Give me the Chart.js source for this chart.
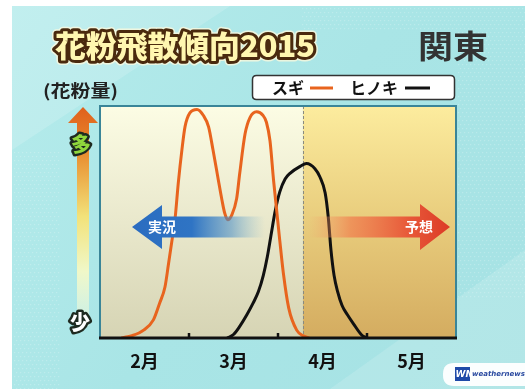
<!DOCTYPE html>
<html>
<head>
<meta charset="utf-8">
<script src="https://cdn.jsdelivr.net/npm/chart.js@4"></script>
<style>
  html, body { margin: 0; padding: 0; background: #ffffff; }
  canvas { display: block; }
</style>
</head>
<body>
<canvas id="c" width="525" height="389"></canvas>
<script>
// Months on the x axis (0 = start of February, 4 = end of May)
const monthLabels  = ['2月', '3月', '4月', '5月'];
const monthCenters = [0.5, 1.5, 2.5, 3.5];
const monthBounds  = [1, 2, 3];

// スギ (Japanese cedar) pollen level, 0 = 少, 100 = 多
const sugiX = [0.24, 0.36, 0.49, 0.60, 0.67, 0.73, 0.77, 0.82, 0.845, 0.88, 0.92, 0.955, 1.01, 1.09, 1.16, 1.22, 1.27, 1.33, 1.37, 1.40, 1.435, 1.48, 1.535, 1.57, 1.63, 1.685, 1.76, 1.83, 1.87, 1.91, 1.95, 1.985, 2.02, 2.06, 2.12, 2.21, 2.29, 2.35];
const sugiY = [0,    1,    3.4,  7.8,  15,   22,   32,   45,   52,    67,   81,   91,    97,   98.5, 96,   91,   81,   68,   59.5, 54,   51,    53,   60,    71,   88,   95,    97.5, 96,   93,   85,   68,   55,    42,   28,   13,   3.4,  0.8,  0];

// ヒノキ (Japanese cypress) pollen level
const hinokiX = [1.43, 1.50, 1.57, 1.65, 1.72, 1.78, 1.835, 1.88, 1.92, 1.97, 2.02, 2.08, 2.135, 2.25, 2.32, 2.415, 2.47, 2.53, 2.565, 2.595, 2.63, 2.67, 2.72, 2.78, 2.85, 2.94, 3.00];
const hinokiY = [0,    1.5,  5,    10,   15,   20,   27,    35,   44,   55,   63,   68.5, 71,    74,   75.2, 73,    69.5, 62.5, 52,    38,    27,   20,   14,   10,   6,    1.3,  0];

// Observed / forecast boundary (in months)
const forecastStart = 2.28;

const toPoints = (xs, ys) => xs.map((x, i) => ({ x: x, y: ys[i] }));

const JP = '"Noto Sans CJK JP", "Noto Sans", sans-serif';

function roundRect(ctx, x, y, w, h, r) {
  ctx.beginPath();
  ctx.moveTo(x + r, y);
  ctx.lineTo(x + w - r, y);
  ctx.quadraticCurveTo(x + w, y, x + w, y + r);
  ctx.lineTo(x + w, y + h - r);
  ctx.quadraticCurveTo(x + w, y + h, x + w - r, y + h);
  ctx.lineTo(x + r, y + h);
  ctx.quadraticCurveTo(x, y + h, x, y + h - r);
  ctx.lineTo(x, y + r);
  ctx.quadraticCurveTo(x, y, x + r, y);
  ctx.closePath();
}

// Text squeezed or stretched horizontally to a given width
function fitText(ctx, text, x, y, width, mode) {
  const w = ctx.measureText(text).width;
  ctx.save();
  ctx.translate(x, y);
  ctx.scale(width / w, 1);
  if (mode === 'stroke') ctx.strokeText(text, 0, 0); else ctx.fillText(text, 0, 0);
  ctx.restore();
}

const backdrop = {
  id: 'backdrop',
  beforeDraw(chart) {
    const ctx = chart.ctx;
    const a = chart.chartArea;
    const xs = chart.scales.x;
    ctx.save();

    // page background
    ctx.fillStyle = '#ffffff';
    ctx.fillRect(0, 0, 525, 389);
    const bg = ctx.createLinearGradient(0, 0, 525, 389);
    bg.addColorStop(0, '#b6ecec');
    bg.addColorStop(0.5, '#a9e5e6');
    bg.addColorStop(1, '#a6e2e4');
    ctx.fillStyle = bg;
    ctx.fillRect(12, 6, 513, 383);

    // soft light streaks
    ctx.fillStyle = 'rgba(255,255,255,0.16)';
    ctx.beginPath();
    ctx.moveTo(12, 6); ctx.lineTo(230, 6); ctx.lineTo(12, 150); ctx.closePath();
    ctx.fill();
    ctx.fillStyle = 'rgba(255,255,255,0.14)';
    ctx.beginPath();
    ctx.moveTo(525, 250); ctx.lineTo(525, 389); ctx.lineTo(330, 389); ctx.closePath();
    ctx.fill();

    // halftone dots
    ctx.fillStyle = 'rgba(255,255,255,0.22)';
    for (let y = 8; y < 389; y += 4) {
      for (let x = 14 + ((y / 4) % 2) * 2; x < 525; x += 4) {
        if ((x < 60 && y > 150) || (x > 456 && y < 300) || (y < 30 && x > 300)) {
          ctx.fillRect(x, y, 1.2, 1.2);
        }
      }
    }

    // title
    ctx.font = '900 30px ' + JP;
    ctx.textBaseline = 'middle';
    ctx.textAlign = 'left';
    ctx.lineJoin = 'round';
    const title = '花粉飛散傾向2015';
    ctx.strokeStyle = 'rgba(255,250,220,0.75)';
    ctx.lineWidth = 9;
    fitText(ctx, title, 55, 46, 260, 'stroke');
    ctx.strokeStyle = '#4a2a0e';
    ctx.lineWidth = 6;
    fitText(ctx, title, 55, 46, 260, 'stroke');
    const tg = ctx.createLinearGradient(0, 32, 0, 60);
    tg.addColorStop(0, '#fff7b0');
    tg.addColorStop(0.45, '#f6cc3a');
    tg.addColorStop(1, '#d08a10');
    ctx.fillStyle = tg;
    fitText(ctx, title, 55, 46, 260, 'fill');

    // region name
    ctx.font = 'bold 32px ' + JP;
    ctx.fillStyle = '#333333';
    fitText(ctx, '関東', 418, 46, 70, 'fill');

    // y axis caption
    ctx.font = 'bold 17px ' + JP;
    ctx.fillStyle = '#222222';
    fitText(ctx, '(花粉量)', 43, 91, 75, 'fill');

    // legend box
    roundRect(ctx, 252.5, 75.5, 202, 24, 4);
    ctx.fillStyle = '#ffffff';
    ctx.fill();
    ctx.strokeStyle = '#333333';
    ctx.lineWidth = 1.5;
    ctx.stroke();
    ctx.font = 'bold 16px ' + JP;
    ctx.fillStyle = '#111111';
    ctx.fillText('スギ', 272, 88);
    ctx.fillText('ヒノキ', 350, 88);
    ctx.lineWidth = 3;
    ctx.strokeStyle = '#e8641e';
    ctx.beginPath(); ctx.moveTo(310, 88); ctx.lineTo(333, 88); ctx.stroke();
    ctx.strokeStyle = '#111111';
    ctx.beginPath(); ctx.moveTo(405, 88); ctx.lineTo(430, 88); ctx.stroke();

    // vertical amount arrow
    const vg = ctx.createLinearGradient(0, 107, 0, 326);
    vg.addColorStop(0, '#e0601c');
    vg.addColorStop(0.2, '#e88a2c');
    vg.addColorStop(0.5, '#f2e27a');
    vg.addColorStop(0.75, '#f0f8c8');
    vg.addColorStop(1, 'rgba(240,250,225,0.4)');
    ctx.fillStyle = vg;
    ctx.beginPath();
    ctx.moveTo(83, 107);
    ctx.lineTo(98, 123);
    ctx.lineTo(89, 123);
    ctx.lineTo(89, 326);
    ctx.lineTo(77, 326);
    ctx.lineTo(77, 123);
    ctx.lineTo(68, 123);
    ctx.closePath();
    ctx.fill();

    ctx.font = '900 20px ' + JP;
    ctx.textAlign = 'center';
    ctx.lineWidth = 5;
    ctx.strokeStyle = '#1e2a20';
    ctx.strokeText('多', 81, 144);
    ctx.fillStyle = '#8fd63c';
    ctx.fillText('多', 81, 144);
    ctx.strokeText('少', 80, 322);
    ctx.fillStyle = '#ffffff';
    ctx.fillText('少', 80, 322);

    // plot area: observed part and forecast part
    const xf = xs.getPixelForValue(forecastStart);
    const lg = ctx.createLinearGradient(0, a.top, 0, a.bottom);
    lg.addColorStop(0, '#fcfce4');
    lg.addColorStop(1, '#d6d4b4');
    ctx.fillStyle = lg;
    ctx.fillRect(a.left, a.top, xf - a.left, a.bottom - a.top);
    const rg = ctx.createLinearGradient(0, a.top, 0, a.bottom);
    rg.addColorStop(0, '#fcec9e');
    rg.addColorStop(0.5, '#e8cc7c');
    rg.addColorStop(1, '#d4ac60');
    ctx.fillStyle = rg;
    ctx.fillRect(xf, a.top, a.right - xf, a.bottom - a.top);

    // boundary line
    ctx.setLineDash([3, 2]);
    ctx.strokeStyle = '#8a8a80';
    ctx.lineWidth = 1;
    ctx.beginPath();
    ctx.moveTo(Math.round(xf) + 0.5, a.top);
    ctx.lineTo(Math.round(xf) + 0.5, a.bottom);
    ctx.stroke();
    ctx.setLineDash([]);

    // logo
    roundRect(ctx, 443, 363, 95, 23, 11);
    ctx.fillStyle = 'rgba(255,255,255,0.95)';
    ctx.fill();
    ctx.fillStyle = '#1f4aa8';
    ctx.fillRect(455, 367, 15, 14);
    ctx.font = 'italic bold 9px "DejaVu Sans", sans-serif';
    ctx.textAlign = 'left';
    ctx.fillStyle = '#ffffff';
    ctx.fillText('WN', 455.5, 374.5);
    ctx.font = 'italic bold 7px "DejaVu Sans", sans-serif';
    ctx.fillStyle = '#2a4aa0';
    ctx.fillText('weathernews', 472, 374.5);

    ctx.restore();
  },
  afterDatasetsDraw(chart) {
    const ctx = chart.ctx;
    const a = chart.chartArea;
    ctx.save();

    // 実況 arrow (pointing left)
    const bgr = ctx.createLinearGradient(132, 0, 265, 0);
    bgr.addColorStop(0, '#2a6cc0');
    bgr.addColorStop(0.45, '#2f74c4');
    bgr.addColorStop(0.75, 'rgba(70,140,200,0.55)');
    bgr.addColorStop(1, 'rgba(120,180,210,0)');
    ctx.fillStyle = bgr;
    ctx.beginPath();
    ctx.moveTo(132, 227);
    ctx.lineTo(162, 205);
    ctx.lineTo(162, 216.5);
    ctx.lineTo(265, 216.5);
    ctx.lineTo(265, 237.5);
    ctx.lineTo(162, 237.5);
    ctx.lineTo(162, 249);
    ctx.closePath();
    ctx.fill();

    // 予想 arrow (pointing right)
    const rgr = ctx.createLinearGradient(308, 0, 450, 0);
    rgr.addColorStop(0, 'rgba(245,160,110,0)');
    rgr.addColorStop(0.3, 'rgba(240,130,80,0.75)');
    rgr.addColorStop(0.7, '#e85a3a');
    rgr.addColorStop(1, '#dc3a26');
    ctx.fillStyle = rgr;
    ctx.beginPath();
    ctx.moveTo(450, 227);
    ctx.lineTo(420, 204);
    ctx.lineTo(420, 216.5);
    ctx.lineTo(308, 216.5);
    ctx.lineTo(308, 237.5);
    ctx.lineTo(420, 237.5);
    ctx.lineTo(420, 250);
    ctx.closePath();
    ctx.fill();

    ctx.font = 'bold 14px ' + JP;
    ctx.fillStyle = '#ffffff';
    ctx.textBaseline = 'middle';
    ctx.textAlign = 'left';
    ctx.fillText('実況', 148, 227);
    ctx.fillText('予想', 405, 227);

    // frame of the plot area
    ctx.strokeStyle = '#3a8598';
    ctx.lineWidth = 2;
    ctx.beginPath();
    ctx.moveTo(a.left, a.bottom);
    ctx.lineTo(a.left, a.top);
    ctx.lineTo(a.right, a.top);
    ctx.lineTo(a.right, a.bottom);
    ctx.stroke();
    ctx.restore();
  },
  afterDraw(chart) {
    // month boundary ticks pointing into the plot
    const ctx = chart.ctx;
    const a = chart.chartArea;
    const xs = chart.scales.x;
    ctx.save();
    ctx.strokeStyle = '#111111';
    ctx.lineWidth = 2.5;
    monthBounds.forEach(m => {
      const px = xs.getPixelForValue(m);
      ctx.beginPath();
      ctx.moveTo(px, a.bottom - 5);
      ctx.lineTo(px, a.bottom);
      ctx.stroke();
    });
    ctx.lineWidth = 3;
    ctx.beginPath();
    ctx.moveTo(a.left - 1, a.bottom);
    ctx.lineTo(a.right + 1, a.bottom);
    ctx.stroke();
    ctx.restore();
  }
};

new Chart(document.getElementById('c'), {
  type: 'line',
  data: {
    datasets: [
      {
        label: 'スギ',
        data: toPoints(sugiX, sugiY),
        borderColor: '#e8641e',
        borderWidth: 3,
        cubicInterpolationMode: 'monotone',
        pointRadius: 0,
        fill: false
      },
      {
        label: 'ヒノキ',
        data: toPoints(hinokiX, hinokiY),
        borderColor: '#111111',
        borderWidth: 3,
        cubicInterpolationMode: 'monotone',
        pointRadius: 0,
        fill: false
      }
    ]
  },
  options: {
    responsive: false,
    animation: false,
    layout: { padding: { left: 100, top: 106, right: 69, bottom: 0 } },
    plugins: { legend: { display: false }, tooltip: { enabled: false } },
    scales: {
      x: {
        type: 'linear',
        min: 0,
        max: 4,
        afterBuildTicks: axis => { axis.ticks = monthCenters.map(v => ({ value: v })); },
        afterFit: axis => { axis.height = 51; },
        ticks: {
          autoSkip: false,
          maxRotation: 0,
          padding: 12,
          color: '#111111',
          font: { family: JP, size: 18, weight: 'bold' },
          callback: (v, i) => monthLabels[i]
        },
        grid: { display: false, drawTicks: false },
        border: { display: false }
      },
      y: { min: 0, max: 100, display: false }
    }
  },
  plugins: [backdrop]
});
</script>
</body>
</html>
